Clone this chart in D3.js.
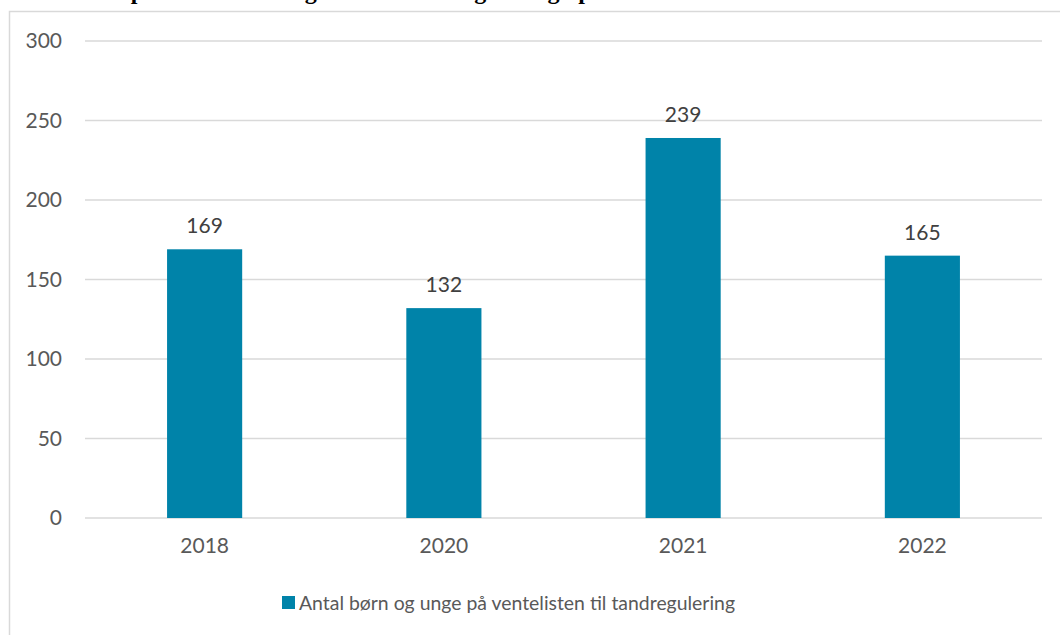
<!DOCTYPE html>
<html>
<head>
<meta charset="utf-8">
<script src="https://cdn.jsdelivr.net/npm/d3@7"></script>
<style>
  body { margin: 0; background: #fff; overflow: hidden; }
  svg { display: block; }
</style>
</head>
<body>
<div id="chart"></div>
<script>
// Data
const years = ["2018", "2020", "2021", "2022"];
const waiting = [169, 132, 239, 165];
const yTicks = [0, 50, 100, 150, 200, 250, 300];
const seriesName = "Antal børn og unge på ventelisten til tandregulering";
const titleText = "Antal børn på ventelisten til godkendt tandregulering i perioden 2018-2022";

const width = 1060;
const height = 635;

const svg = d3.select("#chart")
    .append("svg")
    .attr("width", width)
    .attr("height", height);

// Title sits above the visible area, only descenders show
svg.append("text")
    .attr("x", 12)
    .attr("y", -1.5)
    .attr("font-family", "Liberation Serif, serif")
    .attr("font-weight", "bold")
    .attr("font-size", 24)
    .attr("fill", "#000")
    .text(titleText);

// Chart frame (top and left edges visible)
svg.append("path")
    .attr("d", `M9.5,${height} L9.5,11.5 L${width},11.5`)
    .attr("fill", "none")
    .attr("stroke", "#d9d9d9")
    .attr("stroke-width", 1.5);

const plot = { left: 85, right: 1042, top: 41, bottom: 518 };

const x = d3.scaleBand()
    .domain(years)
    .range([plot.left, plot.right])
    .paddingInner(0.686)
    .paddingOuter(0.343);

const y = d3.scaleLinear()
    .domain([0, 300])
    .range([plot.bottom, plot.top]);

const font = "Lato, 'Open Sans', sans-serif";

// Gridlines
svg.append("g")
    .selectAll("line")
    .data(yTicks)
    .enter().append("line")
    .attr("x1", plot.left)
    .attr("x2", plot.right)
    .attr("y1", d => y(d))
    .attr("y2", d => y(d))
    .attr("stroke", "#d9d9d9")
    .attr("stroke-width", 1.5);

// Y axis labels
const yAxis = svg.append("g")
    .attr("transform", `translate(${plot.left - 23},0)`)
    .call(d3.axisLeft(y).tickValues(yTicks).tickSize(0).tickPadding(0));
yAxis.select(".domain").remove();
yAxis.selectAll("text")
    .attr("font-family", font)
    .attr("font-size", 21)
    .attr("fill", "#595959");

// X axis labels
const xAxis = svg.append("g")
    .attr("transform", `translate(0,${plot.bottom + 20})`)
    .call(d3.axisBottom(x).tickSize(0).tickPadding(0));
xAxis.select(".domain").remove();
xAxis.selectAll("text")
    .attr("font-family", font)
    .attr("font-size", 21)
    .attr("fill", "#595959");

// Bars
svg.append("g")
    .selectAll("rect")
    .data(waiting)
    .enter().append("rect")
    .attr("x", (d, i) => x(years[i]))
    .attr("y", d => y(d))
    .attr("width", x.bandwidth())
    .attr("height", d => y(0) - y(d))
    .attr("fill", "#0083a9");

// Data labels
svg.append("g")
    .selectAll("text")
    .data(waiting)
    .enter().append("text")
    .attr("x", (d, i) => x(years[i]) + x.bandwidth() / 2)
    .attr("y", d => y(d) - 16)
    .attr("text-anchor", "middle")
    .attr("font-family", font)
    .attr("font-size", 21)
    .attr("fill", "#404040")
    .text(d => d);

// Legend
const legend = svg.append("g")
    .attr("transform", "translate(282,596)");
legend.append("rect")
    .attr("width", 13)
    .attr("height", 13)
    .attr("fill", "#0083a9");
legend.append("text")
    .attr("x", 17)
    .attr("y", 13.5)
    .attr("font-family", font)
    .attr("font-size", 19.5)
    .attr("textLength", 436)
    .attr("lengthAdjust", "spacingAndGlyphs")
    .attr("fill", "#595959")
    .text(seriesName);
</script>
</body>
</html>
